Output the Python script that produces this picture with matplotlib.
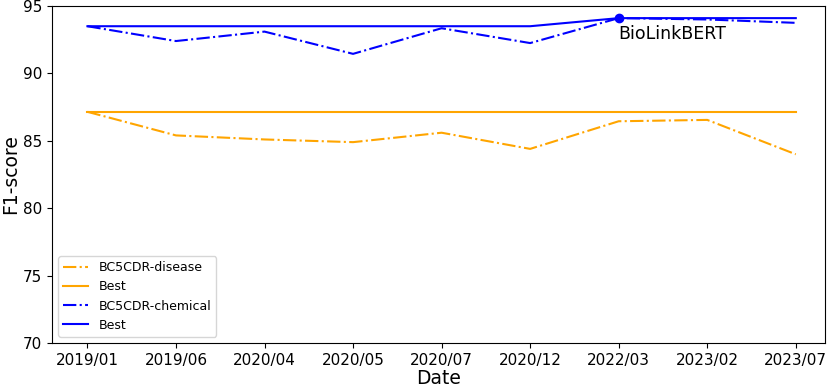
import matplotlib
matplotlib.use("Agg")
from matplotlib import pyplot as plt

dates = ["2019/01", "2019/06", "2020/04", "2020/05", "2020/07",
         "2020/12", "2022/03", "2023/02", "2023/07"]

# F1 scores
disease = [87.15, 85.4, 85.1, 84.9, 85.6, 84.4, 86.45, 86.55, 84.0]
disease_best = [87.15] * 9
chemical = [93.5, 92.4, 93.1, 91.45, 93.35, 92.25, 94.1, 94.0, 93.75]
chemical_best = [93.5, 93.5, 93.5, 93.5, 93.5, 93.5, 94.1, 94.1, 94.1]

x = list(range(len(dates)))

fig = plt.figure(figsize=(8.3, 3.9), dpi=100)
ax = fig.add_axes([52 / 830, 1 - 343 / 390, 773 / 830, 337 / 390])

ax.plot(x, disease, color="orange", linestyle="-.", label="BC5CDR-disease")
ax.plot(x, disease_best, color="orange", linestyle="-", label="Best")
ax.plot(x, chemical, color="blue", linestyle="-.", label="BC5CDR-chemical")
ax.plot(x, chemical_best, color="blue", linestyle="-", label="Best")

# mark the new best
ax.plot(x[6], chemical_best[6], "o", color="blue", markersize=6)
ax.annotate("BioLinkBERT", (x[6], chemical_best[6]), xytext=(0, -15),
            textcoords="offset points", fontsize=12.5)

ax.set_xticks(x)
ax.set_xticklabels(dates, fontsize=11)
ax.tick_params(axis="y", labelsize=11)
ax.set_xlim(-0.4, 8.33)
ax.set_ylim(70, 95)
ax.set_xlabel("Date", fontsize=13.5, labelpad=1)
ax.set_ylabel("F1-score", fontsize=13.5, labelpad=2)
ax.legend(loc="lower left", fontsize=9)

fig.savefig("out.png")
